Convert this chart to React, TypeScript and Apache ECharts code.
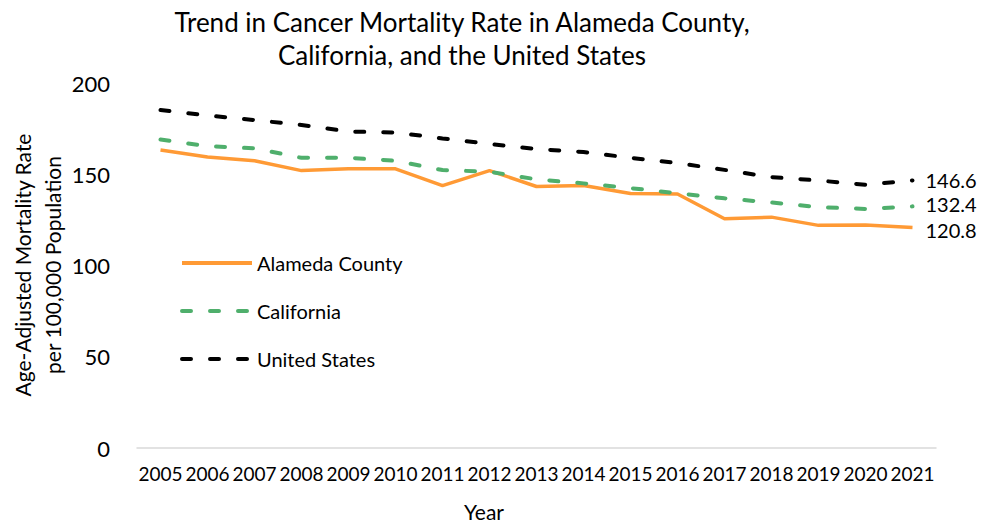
import React, { useEffect, useRef } from "react";
import * as echarts from "echarts";

const years = ["2005","2006","2007","2008","2009","2010","2011","2012","2013","2014","2015","2016","2017","2018","2019","2020","2021"];
const alameda = [163.3, 159.4, 157.4, 152.0, 153.0, 153.0, 143.8, 152.0, 143.3, 143.8, 139.5, 139.2, 125.6, 126.5, 122.0, 122.2, 120.8];
const california = [169.0, 165.4, 164.2, 159.0, 159.0, 157.4, 152.3, 151.4, 147.2, 145.0, 142.4, 139.6, 136.8, 134.5, 132.0, 131.0, 132.4];
const unitedStates = [185.2, 182.2, 179.7, 177.0, 173.4, 172.9, 169.6, 166.6, 163.8, 162.2, 159.0, 156.1, 152.4, 148.4, 146.6, 144.2, 146.6];
const yTicks = { min: 0, max: 200, interval: 50 };

const FONT = "Lato";

export default function App() {
  const ref = useRef<HTMLDivElement>(null);
  useEffect(() => {
    document.body.style.margin = "0";
    const chart = echarts.init(ref.current!, null, { renderer: "svg" });
    const endLabel = (dy: number) => ({
      show: true,
      formatter: (p: any) => Number(p.value).toFixed(1),
      fontFamily: FONT,
      fontSize: 20,
      lineHeight: 16,
      color: "#000",
      distance: 13,
      offset: [0, dy],
    });
    chart.setOption({
      animation: false,
      textStyle: { fontFamily: FONT },
      title: {
        text: "Trend in Cancer Mortality Rate in Alameda County,\nCalifornia, and the United States",
        left: 457,
        top: 0,
        textAlign: "center",
        textStyle: { fontFamily: FONT, fontSize: 26, fontWeight: "normal", color: "#000", lineHeight: 33 },
      },
      legend: {
        orient: "vertical",
        left: 180,
        top: 253,
        padding: 0,
        itemWidth: 70,
        itemHeight: 14,
        itemGap: 28,
        itemStyle: { color: "rgba(0,0,0,0)", borderWidth: 0 },
        lineStyle: { width: 4 },
        textStyle: { fontFamily: FONT, fontSize: 20, color: "#000" },
        data: ["Alameda County", "California", "United States"],
      },
      grid: { left: 137, right: 62, top: 83, bottom: 77 },
      xAxis: {
        type: "category",
        data: years,
        boundaryGap: true,
        axisLine: { lineStyle: { color: "#D9D9D9", width: 1.5 } },
        axisTick: { show: false },
        axisLabel: { fontFamily: FONT, fontSize: 19, color: "#000", margin: 16, interval: 0 },
      },
      yAxis: {
        type: "value",
        min: yTicks.min,
        max: yTicks.max,
        interval: yTicks.interval,
        axisLine: { show: false },
        axisTick: { show: false },
        splitLine: { show: false },
        axisLabel: { fontFamily: FONT, fontSize: 22, color: "#000", margin: 27 },
      },
      graphic: [
        {
          type: "text",
          x: 22,
          y: 265,
          rotation: Math.PI / 2,
          style: { text: "Age-Adjusted Mortality Rate", fontFamily: FONT, fontSize: 21, fill: "#000", align: "center", verticalAlign: "middle" },
        },
        {
          type: "text",
          x: 52,
          y: 265,
          rotation: Math.PI / 2,
          style: { text: "per 100,000 Population", fontFamily: FONT, fontSize: 21, fill: "#000", align: "center", verticalAlign: "middle" },
        },
        {
          type: "text",
          x: 484,
          y: 511,
          style: { text: "Year", fontFamily: FONT, fontSize: 21, fill: "#000", align: "center", verticalAlign: "middle" },
        },
      ],
      series: [
        {
          name: "Alameda County",
          type: "line",
          data: alameda,
          symbol: "none",
          itemStyle: { color: "#FF9A35" },
          lineStyle: { color: "#FF9A35", width: 3.5 },
          endLabel: endLabel(2),
        },
        {
          name: "California",
          type: "line",
          data: california,
          symbol: "none",
          itemStyle: { color: "#4FAF6C" },
          lineStyle: { color: "#4FAF6C", width: 4, type: [9, 19], cap: "round" },
          endLabel: endLabel(-2),
        },
        {
          name: "United States",
          type: "line",
          data: unitedStates,
          symbol: "none",
          itemStyle: { color: "#000" },
          lineStyle: { color: "#000", width: 4, type: [9, 19], cap: "round" },
          endLabel: endLabel(0),
        },
      ],
    });
    return () => chart.dispose();
  }, []);
  return <div ref={ref} style={{ width: 998, height: 525 }} />;
}
